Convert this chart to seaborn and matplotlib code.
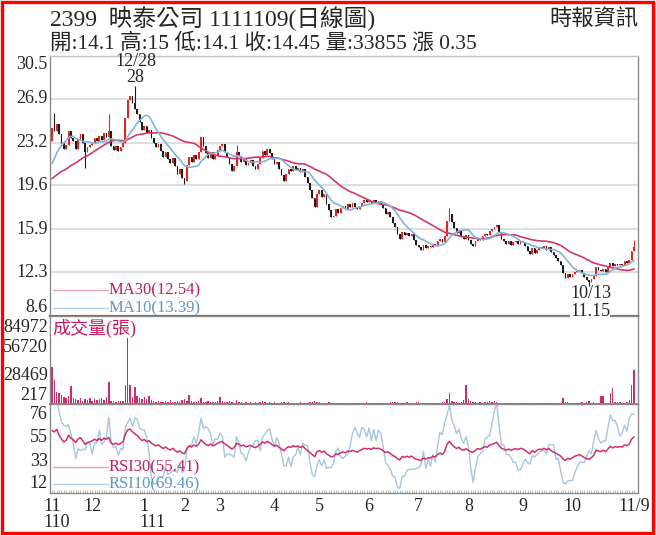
import numpy as np
import pandas as pd
import matplotlib
matplotlib.use("Agg")
import matplotlib.pyplot as plt
import matplotlib.transforms as mtrans
from matplotlib.lines import Line2D
from matplotlib.patches import Rectangle
import seaborn as sns

# ---- data ----
# closes before the window, only used to warm up MA / RSI
pre_close = [19.6, 19.4, 19.8, 19.5, 19.3, 19.6, 19.9, 19.7, 19.4, 19.6,
             19.8, 19.5, 19.3, 19.2, 19.5, 19.7, 19.4, 19.6, 19.3, 19.5,
             19.8, 20.1, 19.9, 20.3, 20.6, 20.4, 21.0, 21.8, 22.5, 23.3]
first_open = 23.3

close_nov21 = [24.4, 24.2, 24.8, 23.9, 23.2, 22.7, 23.0, 24.2, 23.6, 23.3, 22.7, 23.5, 23.9, 23.2, 22.4, 22.8, 23.0]
close_dec21 = [23.2, 23.6, 23.3, 23.8, 23.4, 24.0, 23.7, 24.2, 22.9, 22.6, 22.9, 22.5, 22.8, 23.2, 25.3, 26.8, 27.1,
               26.5, 26.0, 25.6, 24.9, 24.3]
close_jan = [24.6, 24.0, 24.3, 23.6, 23.2, 22.8, 23.1, 22.5, 22.0, 22.4, 21.8, 21.5, 21.9, 21.2, 20.6, 21.0, 20.2]
close_feb = [20.0, 21.3, 22.0, 21.6, 22.2, 21.8, 22.4, 23.7, 22.9, 22.3, 21.9, 22.4, 21.8, 22.1, 22.6]
close_mar = [22.9, 23.1, 22.4, 22.0, 21.4, 20.8, 21.2, 22.4, 22.1, 21.6, 21.8, 21.3, 21.5, 21.7, 21.2, 21.0, 21.4,
             21.9, 22.5, 22.2, 22.7, 22.3, 21.8]
close_apr = [21.4, 21.6, 21.0, 20.5, 20.0, 20.6, 21.0, 20.8, 21.2, 20.9, 21.1, 20.7, 21.0, 20.3, 19.8, 19.2, 18.5,
             17.8, 18.9]
close_may = [19.2, 18.6, 18.9, 18.0, 17.5, 16.9, 17.0, 17.6, 17.3, 17.7, 17.9, 17.6, 18.0, 17.8, 18.1, 17.8, 17.6,
             17.9, 18.1, 18.4, 18.2]
close_jun = [18.3, 18.1, 18.4, 18.2, 18.3, 18.0, 17.7, 17.2, 17.4, 16.9, 16.4, 16.1, 15.5, 15.1, 15.7, 15.4, 15.6,
             15.3, 15.5, 15.0, 14.6]
close_jul = [14.4, 14.2, 14.6, 14.3, 14.5, 14.4, 14.7, 14.5, 14.9, 15.1, 14.8, 15.3, 16.6, 17.2, 16.5, 16.0, 15.6,
             15.8, 15.3, 15.1, 15.4]
close_aug = [15.0, 14.7, 14.5, 14.9, 15.2, 15.0, 15.3, 15.5, 15.4, 15.8, 15.9, 16.1, 16.3, 15.7, 15.1, 14.9, 14.7,
             14.9, 14.6, 14.8, 14.9, 14.7, 14.9]
close_sep = [14.8, 14.5, 14.1, 13.8, 14.3, 13.9, 14.2, 14.4, 14.3, 14.5, 14.2, 14.4, 14.0, 13.7, 13.5, 13.2, 12.9,
             12.2, 11.8, 12.1, 11.9]
close_oct = [12.1, 12.3, 12.4, 12.5, 12.2, 11.9, 11.6, 11.5, 11.7, 12.0, 12.7, 12.5, 12.4, 12.6, 12.3, 12.7, 13.1,
             12.8, 13.0, 12.9]
close_nov22 = [13.0, 12.9, 13.2, 13.1, 13.3, 14.10, 14.45]

vol_nov21 = [37000, 24000, 12000, 11000, 9000, 7000, 6000, 8000, 18000, 6000, 5000, 4000, 6000, 3500, 5000, 4000, 6500]
vol_dec21 = [3000, 5000, 4000, 5000, 6000, 4000, 7000, 22000, 3500, 3000, 2500, 3000, 3500, 3000, 19000, 84972,
             19000, 7000, 17000, 8000, 6000, 5000]
vol_jan = [7000, 5000, 8000, 4000, 3000, 2500, 3000, 2000, 2500, 3000, 2000, 4000, 2500, 2000, 3000, 2500, 4500]
vol_feb = [5000, 3000, 9000, 3000, 2500, 2000, 3000, 6000, 2500, 2000, 3000, 2000, 2500, 2000, 3000]
vol_mar = [7000, 3000, 2000, 2500, 3000, 2000, 1500, 4000, 2500, 2000, 1500, 2000, 1500, 2000, 1500, 2000, 1500,
           2500, 3000, 2000, 1500, 2000, 1500]
vol_apr = [2000, 1500, 1500, 2500, 2000, 1500, 2000, 1500, 1500, 1200, 1500, 2000, 1500, 1000, 1500, 2000, 2500,
           3000, 2500]
vol_may = [2000, 1500, 1200, 1500, 2000, 1500, 1200, 1000, 1500, 1200, 1000, 1200, 1500, 1000, 1200, 1000, 1500,
           1200, 1000, 1500, 2000]
vol_jun = [1500, 1200, 1000, 1200, 1500, 1000, 1200, 1500, 1200, 2000, 1800, 2500, 2000, 1500, 1200, 1500, 2000,
           1200, 1000, 1500, 2000]
vol_jul = [2000, 1500, 1200, 1000, 1500, 1200, 1000, 1200, 1500, 1200, 2000, 2500, 5000, 11000, 3000, 2500, 2000,
           1500, 2000, 4000, 19000]
vol_aug = [5000, 3000, 2000, 2500, 1500, 2000, 1500, 2500, 2000, 3000, 2500, 3500, 2000, 1500, 1200, 1000, 1500,
           1200, 1000, 1200, 1000, 1500, 1200]
vol_sep = [1200, 1000, 1500, 1200, 1000, 1200, 1000, 1500, 1200, 1000, 1200, 1500, 1200, 1000, 1500, 1200, 1500,
           6000, 2500, 2000, 1500]
vol_oct = [1500, 1200, 1000, 1500, 2000, 1500, 2500, 3000, 1500, 2000, 1500, 1200, 8000, 8000, 1500, 1200, 11000,
           16000, 2500, 2000]
vol_nov22 = [2000, 1500, 1500, 2000, 4000, 19000, 33855]

# notable wicks (day index -> price)
wick_high = {1: 25.7, 24: 25.6, 35: 28.0, 78: 23.0, 168: 17.7, 246: 15.0}
wick_low = {14: 21.1, 56: 19.7, 227: 11.15, 246: 14.1}

month_labels = ["11", "12", "1", "2", "3", "4", "5", "6", "7", "8", "9", "10"]
year_labels = {0: "110", 2: "111"}
last_label = "11/9"

price_ticks = [30.5, 26.9, 23.2, 19.6, 15.9, 12.3, 8.6]
vol_ticks = [84972, 56720, 28469, 217]
rsi_ticks = [76, 55, 33, 12]

# ---- build series ----
closes_m = [close_nov21, close_dec21, close_jan, close_feb, close_mar, close_apr, close_may,
            close_jun, close_jul, close_aug, close_sep, close_oct, close_nov22]
vols_m = [vol_nov21, vol_dec21, vol_jan, vol_feb, vol_mar, vol_apr, vol_may,
          vol_jun, vol_jul, vol_aug, vol_sep, vol_oct, vol_nov22]
closes = np.array(sum(closes_m, []))
vols = np.array(sum(vols_m, []))
n = len(closes)
idx = np.arange(n)
opens = np.r_[first_open, closes[:-1]]
highs = np.maximum(opens, closes)
lows = np.minimum(opens, closes)
for k, v in wick_high.items():
    highs[k] = v
for k, v in wick_low.items():
    lows[k] = v

full = pd.Series(pre_close + list(closes))
npre = len(pre_close)
ma10 = full.rolling(10).mean().iloc[npre:].values
ma30 = full.rolling(30).mean().iloc[npre:].values
d = full.diff()
gain = d.clip(lower=0)
loss = -d.clip(upper=0)

# RSI10: simple rolling sums, RSI30: Wilder smoothing
g10 = gain.rolling(10, min_periods=1).sum()
l10 = loss.rolling(10, min_periods=1).sum()
rsi10 = (100 * g10 / (g10 + l10)).iloc[npre:].values
g30 = gain.ewm(alpha=1 / 30, adjust=False).mean()
l30 = loss.ewm(alpha=1 / 30, adjust=False).mean()
rsi30 = (100 * g30 / (g30 + l30)).iloc[npre:].values

month_starts = np.cumsum([0] + [len(m) for m in closes_m[:-1]])

# ---- style ----
RED = "#e3261c"
BLACK = "#1c1c1c"
MA30_C = "#d2386c"
MA10_C = "#82b3d9"
VOL_C = "#cf2a6c"
PINK_TXT = "#c41c5c"
BLUE_TXT = "#5e96c4"
RSI30_C = "#d0306a"
RSI10_C = "#a6c6df"

sns.set_style("white")
plt.rcParams["font.family"] = ["Liberation Serif", "Noto Sans CJK TC"]

W, H = 656, 535
fig = plt.figure(figsize=(W / 100, H / 100), dpi=100)


def box(x0, y0, x1, y1):
    return [x0 / W, 1 - y1 / H, (x1 - x0) / W, (y1 - y0) / H]


def fx(px):
    return px / W


def fy(py):
    return 1 - py / H


axp = fig.add_axes(box(50, 56, 638, 316))
axv = fig.add_axes(box(50, 316, 638, 404))
axr = fig.add_axes(box(50, 404, 638, 493))

# candles
up = closes >= opens
cols = np.where(up, RED, BLACK)
axp.vlines(idx, lows, highs, colors=cols, lw=0.8, zorder=2)
axp.bar(idx, np.maximum(np.abs(closes - opens), 0.06), bottom=np.minimum(opens, closes),
        width=0.72, color=cols, linewidth=0, zorder=3)
sns.lineplot(x=idx, y=ma30, ax=axp, color=MA30_C, lw=1.2, zorder=4)
sns.lineplot(x=idx, y=ma10, ax=axp, color=MA10_C, lw=1.2, zorder=4)
for t in price_ticks[1:-1]:
    axp.axhline(t, color="#dedede", lw=1.5, zorder=0)
axp.set_ylim(8.6, 30.5)

# volume
axv.bar(idx, vols, width=0.62, color=VOL_C, linewidth=0)
axv.set_ylim(0, 88000)

# RSI
sns.lineplot(x=idx, y=rsi10, ax=axr, color=RSI10_C, lw=1.0)
sns.lineplot(x=idx, y=rsi30, ax=axr, color=RSI30_C, lw=1.1)
axr.set_ylim(3.6, 86.2)

for ax in (axp, axv, axr):
    ax.set_xlim(-0.85, 247.7)
    ax.set_xticks([])
    ax.set_yticks([])
    ax.set_xlabel("")
    ax.set_ylabel("")
    for s in ax.spines.values():
        s.set_color("#8a8a8a")
        s.set_linewidth(1.0)
axp.spines["top"].set_color("#c4c4c4")
axp.spines["bottom"].set_color("#707070")
axp.spines["bottom"].set_linewidth(1.6)
axv.spines["bottom"].set_color("#808080")
axv.spines["bottom"].set_linewidth(1.3)
axr.set_xticks(idx, minor=True)
axr.tick_params(which="minor", bottom=True, length=2, width=0.6, color="#b0b0b0", direction="in")

# y labels
TICK_FS = 13


def ylabels(ax, ticks, vas, fmt):
    tr = mtrans.blended_transform_factory(ax.transAxes, ax.transData)
    for t, va in zip(ticks, vas):
        ax.text(-0.004, t, fmt(t), transform=tr, ha="right", va=va, fontsize=TICK_FS, clip_on=False)


ylabels(axp, price_ticks, ["top", "center", "center", "center", "center", "center", "bottom"],
        lambda t: f"{t:g}")
ylabels(axv, vol_ticks, ["top", "center", "center", "bottom"], lambda t: f"{t}")
ylabels(axr, rsi_ticks, ["center", "center", "center", "center"], lambda t: f"{t}")

# x labels
trx = mtrans.blended_transform_factory(axr.transData, axr.transAxes)
for k, (pos, lbl) in enumerate(zip(month_starts, month_labels)):
    axr.text(pos, -0.15, lbl, transform=trx, ha="center", va="center", fontsize=TICK_FS, clip_on=False)
    if k in year_labels:
        axr.annotate(year_labels[k], xy=(pos, -0.33), xycoords=trx, xytext=(-len(lbl) * 0.25 * TICK_FS, 0),
                     textcoords="offset points", ha="left", va="center", fontsize=TICK_FS)
axr.text(n - 1, -0.15, last_label, transform=trx, ha="center", va="center", fontsize=TICK_FS, clip_on=False)


# legends inside panels
def legend_item(y, text, line_c, txt_c):
    fig.add_artist(Line2D([fx(53), fx(108)], [fy(y), fy(y)], color=line_c, lw=1.0))
    fig.text(fx(109), fy(y), text, color=txt_c, fontsize=12, va="center", ha="left")


legend_item(290, "MA30(12.54)", "#e7a3bb", PINK_TXT)
legend_item(308, "MA10(13.39)", "#b2cfe6", BLUE_TXT)
legend_item(467, "RSI30(55.41)", "#e7a3bb", PINK_TXT)
legend_item(484, "RSI10(69.46)", "#b2cfe6", BLUE_TXT)
fig.text(fx(52), fy(328), "成交量(張)", color=PINK_TXT, fontsize=13, va="center", ha="left",
         bbox=dict(facecolor="white", edgecolor="none", pad=0.5))

# annotations
fig.text(fx(136), fy(61), "12/28", fontsize=13, ha="center", va="center")
fig.text(fx(135), fy(78), "28", fontsize=13, ha="center", va="center")
fig.text(fx(591), fy(294), "10/13", fontsize=13, ha="center", va="center")
fig.text(fx(590), fy(311), "11.15", fontsize=13, ha="center", va="center",
         bbox=dict(facecolor="white", edgecolor="none", pad=0.3))

# header
fig.text(fx(50), fy(19), "2399  映泰公司 1111109(日線圖)", fontsize=17, ha="left", va="center")
fig.text(fx(50), fy(43), "開:14.1 高:15 低:14.1 收:14.45 量:33855 漲 0.35", fontsize=15.5, ha="left",
         va="center")
fig.text(fx(638), fy(19), "時報資訊", fontsize=16, ha="right", va="center")

fig.add_artist(Rectangle((fx(1.5), fy(533)), (653 - 1.5) / W, (533 - 1.5) / H, transform=fig.transFigure,
                         fill=False, edgecolor="#ff0000", lw=2.4))

fig.savefig("out.png", dpi=100)
